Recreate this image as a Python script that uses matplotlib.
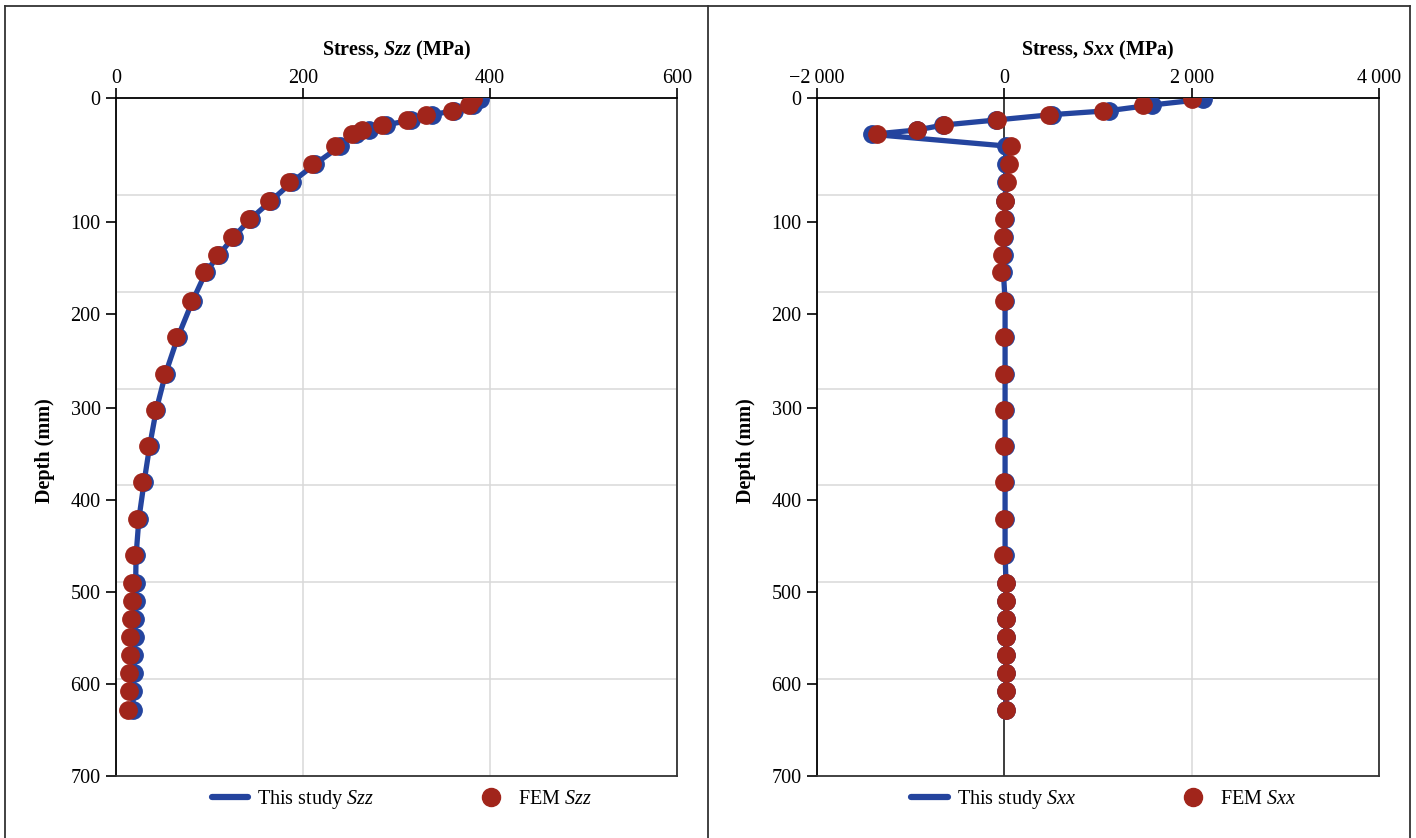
import matplotlib
matplotlib.use("Agg")
import matplotlib.pyplot as plt
from matplotlib.lines import Line2D

plt.rcParams['font.family'] = ['Liberation Serif', 'DejaVu Serif']
plt.rcParams['mathtext.fontset'] = 'custom'
plt.rcParams['mathtext.rm'] = 'Liberation Serif'
plt.rcParams['mathtext.it'] = 'Liberation Serif:italic'
plt.rcParams['mathtext.bf'] = 'Liberation Serif:bold:italic'

# ---- data (depth in mm, stresses in MPa) ----
depth = [1.3, 7.2, 13.1, 17.2, 22.7, 27.9, 33.0, 37.5, 49.6, 68.1, 87.0, 106.0,
         124.7, 143.3, 161.9, 180.0, 209.3, 247.1, 284.6, 322.1, 359.3, 396.8,
         434.3, 472.1, 500.4, 519.0, 537.6, 556.5, 575.4, 594.0, 612.7, 632.0]

szz_study = [389, 382, 362, 338, 315, 289, 271, 257, 240, 213, 188, 166, 144,
             126, 110, 96, 82, 66, 53, 43, 36, 30, 24.5, 21.5, 21, 21, 20.5, 20,
             19.5, 19, 18.5, 18]
szz_fem = [381.5, 377.5, 359.7, 331.2, 311.2, 284.2, 263.4, 252.7, 233.9, 209.6,
           185.0, 163.6, 141.9, 123.7, 108.0, 93.8, 80.2, 64.2, 51.3, 41.7, 34.2,
           28.1, 22.8, 19.6, 17.4, 16.8, 16.4, 15.3, 14.7, 14.2, 13.6, 12.5]

sxx_study = [2126, 1578, 1114, 505, -85, -650, -930, -1413, 21, 20, 15, 10, 5,
             0, -5, -10, 8, 8, 8, 8, 8, 8, 8, 8, 18, 18, 18, 18, 18, 18, 18, 18]
sxx_fem = [2000, 1485, 1050, 481, -82, -648, -932, -1360, 72, 45, 25, 11, 0,
           -11, -21, -32, 0, 0, 0, 0, -3, -3, -8, -14, 18, 18, 18, 18, 18, 18,
           18, 18]

depth_tick_labels = ['0', '100', '200', '300', '400', '500', '600', '700']
depth_tick_pos = [0, 127.7, 223.3, 319.7, 415.0, 510.3, 605.3, 700]
depth_grid = [100, 200, 300, 400, 500, 600]

szz_ticks = [0, 200, 400, 600]
szz_tick_labels = ['0', '200', '400', '600']
sxx_ticks = [-2000, 0, 2000, 4000]
sxx_tick_labels = ['\u22122\u2009000', '0', '2\u2009000', '4\u2009000']

BLUE = '#24449E'
RED = '#A1251B'
GRID = '#D9D9D9'
FS = 14.5

W, H = 1416, 838
fig = plt.figure(figsize=(W / 100, H / 100), dpi=100)


def fx(px):
    return px / W


def fy(py):
    return 1 - py / H


ax1 = fig.add_axes([fx(116), fy(776), fx(677 - 116), (776 - 98) / H])
ax2 = fig.add_axes([fx(817), fy(776), fx(1379 - 817), (776 - 98) / H])


def style(ax, xlim, xticks, xlabels, label_tex):
    ax.set_xlim(*xlim)
    ax.set_ylim(700, 0)
    ax.xaxis.tick_top()
    ax.xaxis.set_label_position('top')
    ax.set_xticks(xticks)
    ax.set_xticklabels(xlabels, fontsize=FS)
    ax.set_yticks(depth_tick_pos)
    ax.set_yticklabels(depth_tick_labels, fontsize=FS)
    ax.set_yticks(depth_grid, minor=True)
    ax.tick_params(axis='y', which='minor', length=0)
    ax.tick_params(axis='both', which='major', direction='out', length=7,
                   width=1.2, color='black')
    ax.tick_params(axis='x', which='major', pad=0)
    ax.tick_params(axis='y', which='major', pad=4)
    ax.grid(False)
    for g in depth_grid:
        ax.axhline(g, color=GRID, lw=1.1, zorder=0)
    for t in xticks:
        ax.axvline(t, color=GRID, lw=1.1, zorder=0)
    for s in ax.spines.values():
        s.set_linewidth(1.3)
        s.set_color('black')
    ax.spines['bottom'].set_color('#333333')
    ax.spines['right'].set_color('#333333')
    ax.set_xlabel(label_tex, fontsize=FS, fontweight='bold', labelpad=10)
    ax.set_ylabel('Depth (mm)', fontsize=FS, fontweight='bold')
    ax.yaxis.set_label_coords(-0.108, 0.48)


style(ax1, (0, 600), szz_ticks, szz_tick_labels, r'Stress, $\mathbf{Szz}$ (MPa)')
style(ax2, (-2000, 4000), sxx_ticks, sxx_tick_labels, r'Stress, $\mathbf{Sxx}$ (MPa)')
ax2.axvline(0, color='#222222', lw=1.2, zorder=1)

ms = 12.5
for ax, st, fe, sym in [(ax1, szz_study, szz_fem, 'Szz'),
                        (ax2, sxx_study, sxx_fem, 'Sxx')]:
    ax.plot(st, depth, color=BLUE, lw=3.8, marker='o', ms=ms,
            markerfacecolor=BLUE, markeredgecolor=BLUE, zorder=3)
    ax.plot(fe, depth, ls='none', marker='o', ms=ms, color=RED,
            markerfacecolor=RED, markeredgecolor=RED, zorder=4)
    h1 = Line2D([], [], color=BLUE, lw=4.5, solid_capstyle='round')
    h2 = Line2D([], [], ls='none', marker='o', ms=13, color=RED)
    ax.legend([h1, h2], [r'This study $\mathit{' + sym + '}$',
                         r'FEM $\mathit{' + sym + '}$'],
              loc='upper center', bbox_to_anchor=(0.51, 0.003), ncol=2,
              frameon=False, fontsize=FS, handlelength=1.8,
              columnspacing=4.9, handletextpad=0.45, borderpad=0.2)

# outer frame lines
frame_col = '#333333'
for (x0, y0, x1, y1) in [(5, 5.7, 1410, 5.7), (5, 5.7, 5, 838),
                         (707.7, 5.7, 707.7, 838), (1410, 5.7, 1410, 838)]:
    fig.add_artist(Line2D([fx(x0), fx(x1)], [fy(y0), fy(y1)],
                          color=frame_col, lw=1.3,
                          transform=fig.transFigure))

fig.savefig('out.png', dpi=100)
